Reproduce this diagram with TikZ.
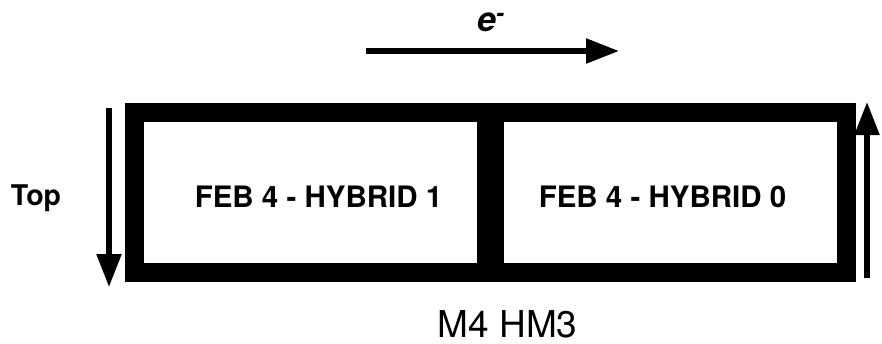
\documentclass[tikz,border=0pt]{standalone}
\usepackage{fontspec}
\setmainfont{TeX Gyre Heros}
\usetikzlibrary{arrows.meta}
\begin{document}
\begin{tikzpicture}[x=1pt,y=-1pt,
  hybridbox/.style={draw=black,line width=19pt,minimum width=352.5pt,minimum height=160pt,inner sep=0pt,outer sep=0pt},
  boxlabel/.style={font=\fontsize{29.5}{32}\selectfont\bfseries,anchor=base,inner sep=0pt},
  flow/.style={line width=5.5pt,-{Triangle[length=33pt,width=24pt]}}]
\useasboundingbox (0,0) rectangle (882,343);
% the two hybrid frames of the module
\node[hybridbox] (h1) at (310.25,192.5) {};
\node[hybridbox] (h0) at (670.5,192.5) {};
\node[boxlabel] (t1) at (318.5,207) {FEB 4 - HYBRID 1};
\node[boxlabel] (t0) at (662.5,207) {FEB 4 - HYBRID 0};
% side label and module name
\node[boxlabel,font=\fontsize{28.5}{31}\selectfont\bfseries] (top) at (36,205) {Top};
\node[font=\fontsize{37}{40}\selectfont,anchor=base,inner sep=0pt] (name) at (507.5,337) {M4 HM3};
% electron direction
\coordinate (e1) at (366,51);
\coordinate (e2) at (619,51);
\draw[flow] (e1) -- (e2);
\node[font=\fontsize{34}{36}\selectfont\bfseries\itshape,anchor=base,inner sep=0pt] (elec) at (491,31) {e\textsuperscript{-}};
% readout directions along the sides
\coordinate (l1) at (109,108);
\coordinate (l2) at (109,287);
\draw[flow] (l1) -- (l2);
\coordinate (r1) at (867,278);
\coordinate (r2) at (867,102);
\draw[flow] (r1) -- (r2);
\end{tikzpicture}
\end{document}
